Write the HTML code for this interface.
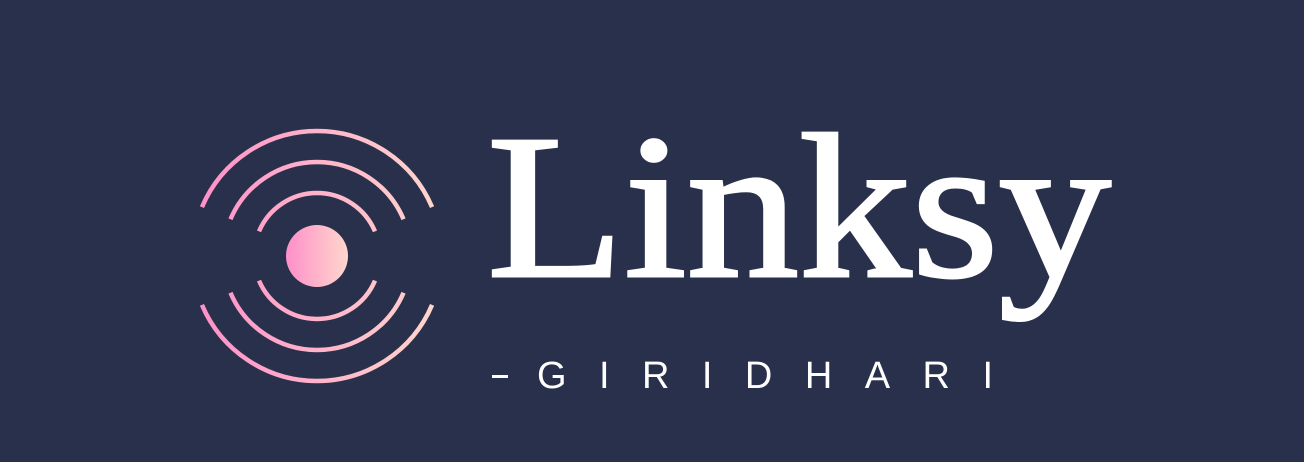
<!DOCTYPE html>
<html><head><meta charset="utf-8">
<style>
html,body{margin:0;padding:0;background:#29304b;}
svg{display:block;}
</style></head>
<body>
<svg width="1304" height="462" viewBox="0 0 1304 462">
<defs>
<linearGradient id="g" x1="0" y1="0" x2="1" y2="0">
<stop offset="0" stop-color="#ff8fc9"/>
<stop offset="1" stop-color="#ffd7cc"/>
</linearGradient>
<linearGradient id="ga" gradientUnits="userSpaceOnUse" x1="195" y1="0" x2="440" y2="0">
<stop offset="0" stop-color="#ff8fc9"/>
<stop offset="1" stop-color="#ffd7cc"/>
</linearGradient>
</defs>
<rect width="1304" height="462" fill="#29304b"/>
<g id="icon" fill="none" stroke="url(#ga)" stroke-width="4.5"></g>
<circle cx="317" cy="256" r="31" fill="url(#g)"/>
<text x="487" y="276" font-family="'Liberation Serif', serif" font-size="206" fill="#ffffff" textLength="624" lengthAdjust="spacingAndGlyphs" stroke="#ffffff" stroke-width="3">Linksy</text>
<rect x="492" y="375" width="16" height="3" fill="#ffffff"/>
<text x="537" y="388" font-family="'Liberation Sans', sans-serif" font-size="38" fill="#ffffff" textLength="456" lengthAdjust="spacing">GIRIDHARI</text>
</svg>
<script>
const radii=[63,94,125];
const cx=317, cy=256, a=23*Math.PI/180;
const g=document.getElementById('icon');
radii.forEach((r,i)=>{
  const dx=r*Math.cos(a), dy=r*Math.sin(a);
  [['top',`M${cx-dx},${cy-dy} A${r},${r} 0 0 1 ${cx+dx},${cy-dy}`],['bottom',`M${cx-dx},${cy+dy} A${r},${r} 0 0 0 ${cx+dx},${cy+dy}`]].forEach(([n,d])=>{
    const p=document.createElementNS('http://www.w3.org/2000/svg','path');
    p.setAttribute('d',d);
    
    
    g.appendChild(p);
  });
});
</script>
</body></html>
